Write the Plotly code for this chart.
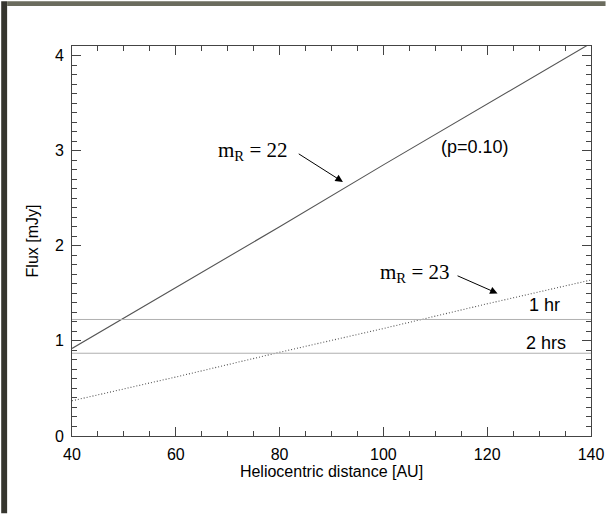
import plotly.graph_objects as go

# Data
distance_au = [40, 60, 80, 100, 120, 140]
flux_mr22 = [0.92, 1.56, 2.20, 2.85, 3.49, 4.13]
flux_mr23 = [0.37, 0.62, 0.88, 1.13, 1.39, 1.64]
limit_1hr = 1.225
limit_2hrs = 0.87
x_ticks = [40, 60, 80, 100, 120, 140]
y_ticks = [0, 1, 2, 3, 4]

fig = go.Figure()

fig.add_trace(go.Scatter(x=distance_au, y=flux_mr22, mode="lines",
                         line=dict(color="#555555", width=1.1), showlegend=False))
fig.add_trace(go.Scatter(x=distance_au, y=flux_mr23, mode="lines",
                         line=dict(color="#555555", width=1.1, dash="1px,2px"), showlegend=False))
for lvl in (limit_1hr, limit_2hrs):
    fig.add_trace(go.Scatter(x=[40, 140], y=[lvl, lvl], mode="lines",
                             line=dict(color="#b0b0b0", width=1), showlegend=False))

# dark frame bands (left and top), kept inside the page
fig.add_shape(type="rect", xref="paper", yref="paper", x0=-0.1364, x1=-0.125, y0=-0.198, y1=1.115,
              fillcolor="#35352e", line=dict(width=0), layer="below")
fig.add_shape(type="rect", xref="paper", yref="paper", x0=-0.125, x1=1.028, y0=1.1026, y1=1.115,
              fillcolor="#6b6c5e", line=dict(width=0), layer="below")

serif = "Liberation Serif"
sans = "Liberation Sans"

fig.add_annotation(x=92.2, y=2.671, ax=83.4, ay=2.976, xref="x", yref="y", axref="x", ayref="y",
                   text="", showarrow=True, arrowhead=2, arrowsize=1.5, arrowwidth=1, arrowcolor="black",
                   standoff=0)
fig.add_annotation(x=81.8, y=3.0, text="m<sub>R</sub> = 22", showarrow=False,
                   xanchor="right", yanchor="middle", font=dict(family=serif, size=21, color="black"))
fig.add_annotation(x=122.0, y=1.499, ax=114.0, ay=1.691, xref="x", yref="y", axref="x", ayref="y",
                   text="", showarrow=True, arrowhead=2, arrowsize=1.5, arrowwidth=1, arrowcolor="black",
                   standoff=0)
fig.add_annotation(x=113.1, y=1.71, text="m<sub>R</sub> = 23", showarrow=False,
                   xanchor="right", yanchor="middle", font=dict(family=serif, size=21, color="black"))
fig.add_annotation(x=117.6, y=3.035, text="(p=0.10)", showarrow=False,
                   font=dict(family=sans, size=18, color="black"))
fig.add_annotation(x=134.4, y=1.376, text="1 hr", showarrow=False, xanchor="right",
                   font=dict(family=sans, size=18, color="black"))
fig.add_annotation(x=135.6, y=0.974, text="2 hrs", showarrow=False, xanchor="right",
                   font=dict(family=sans, size=18, color="black"))

axis_common = dict(showgrid=False, zeroline=False, showline=True, linecolor="#444444", linewidth=1,
                   mirror="ticks", ticks="inside", tickcolor="#444444", ticklen=9, tickwidth=1,
                   tickfont=dict(family=sans, size=16, color="black"))

fig.update_xaxes(range=[40, 140], tickvals=x_ticks, ticktext=[str(v) for v in x_ticks],
                 minor=dict(dtick=5, ticks="inside", ticklen=5, tickcolor="#444444"),
                 ticklabelstandoff=4,
                 title=dict(text="Heliocentric distance [AU]", font=dict(family=sans, size=16, color="black"),
                            standoff=0),
                 **axis_common)
fig.update_yaxes(range=[0, 4.1], tickvals=y_ticks, ticktext=[str(v) for v in y_ticks],
                 minor=dict(dtick=0.1, ticks="inside", ticklen=5, tickcolor="#444444"),
                 ticklabelstandoff=4,
                 title=dict(text="Flux [mJy]", font=dict(family=sans, size=16, color="black"), standoff=12),
                 **axis_common)

fig.update_layout(width=616, height=514, autosize=False, margin=dict(l=72, r=16, t=46, b=78),
                  paper_bgcolor="white", plot_bgcolor="white")

fig.write_html("out.html", config={"responsive": False, "displayModeBar": False})
